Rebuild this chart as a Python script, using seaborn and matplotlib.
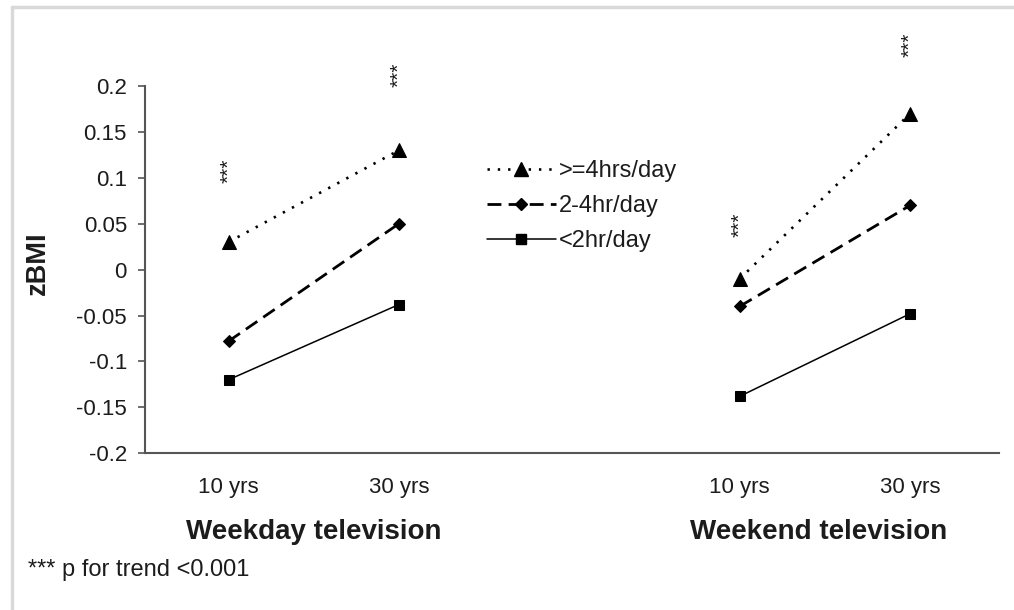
import matplotlib
matplotlib.use("Agg")
import matplotlib.pyplot as plt
from matplotlib.lines import Line2D
import seaborn as sns
import pandas as pd

# Data
ages = ["10 yrs", "30 yrs"]
groups = ["Weekday television", "Weekend television"]
series = [">=4hrs/day", "2-4hr/day", "<2hr/day"]
weekday_vals = {
    ">=4hrs/day": [0.03, 0.13],
    "2-4hr/day": [-0.078, 0.05],
    "<2hr/day": [-0.12, -0.038],
}
weekend_vals = {
    ">=4hrs/day": [-0.01, 0.17],
    "2-4hr/day": [-0.04, 0.07],
    "<2hr/day": [-0.138, -0.048],
}
y_ticks = [-0.2, -0.15, -0.1, -0.05, 0, 0.05, 0.1, 0.15, 0.2]
y_ticklabels = ["-0.2", "-0.15", "-0.1", "-0.05", "0", "0.05", "0.1", "0.15", "0.2"]
# height at which the significance marks sit, per age column
star_heights = [[0.108, 0.212], [0.049, 0.245]]
footnote = "*** p for trend <0.001"

sns.set_theme(style="white")
plt.rcParams["font.family"] = ["Liberation Sans", "DejaVu Sans"]
TEXT = "#1c1c1c"
AXIS = "#555555"

# long table; one empty category slot separates the two groups
rows = []
for gi, (g, vals) in enumerate(zip(groups, [weekday_vals, weekend_vals])):
    for s in series:
        for ai, a in enumerate(ages):
            rows.append({"group": g, "age": a, "series": s,
                         "slot": gi * (len(ages) + 1) + ai, "zBMI": vals[s][ai]})
df = pd.DataFrame(rows)

fig = plt.figure(figsize=(10.14, 6.1), dpi=100)
ax = fig.add_axes([0.143, 0.257, 0.842, 0.602])

markers = {">=4hrs/day": "^", "2-4hr/day": "D", "<2hr/day": "s"}
lstyles = {">=4hrs/day": (0, (0.9, 3.0)), "2-4hr/day": (0, (5, 2.6)), "<2hr/day": "-"}
widths = {">=4hrs/day": 1.9, "2-4hr/day": 2.0, "<2hr/day": 1.1}
msize = {">=4hrs/day": 9.5, "2-4hr/day": 6.5, "<2hr/day": 7.5}

for s in series:
    sub = df[df["series"] == s]
    sns.lineplot(data=sub, x="slot", y="zBMI", units="group", estimator=None,
                 color="black", marker=markers[s], markersize=msize[s],
                 markeredgecolor="black", linewidth=widths[s],
                 linestyle=lstyles[s], ax=ax, legend=False)

ax.set_xlim(-0.49, 4.52)
ax.set_ylim(-0.2, 0.2)
ax.set_yticks(y_ticks)
ax.set_yticklabels(y_ticklabels)
slots = sorted(df["slot"].unique())
ax.set_xticks(slots)
ax.set_xticklabels(ages * len(groups))
ax.tick_params(axis="x", length=0, pad=17, labelsize=16, labelcolor=TEXT)
ax.tick_params(axis="y", length=5, width=1.2, color=AXIS, direction="out",
               pad=8, labelsize=16, labelcolor=TEXT, left=True)
ax.set_xlabel("")
ax.set_ylabel("zBMI", fontsize=19.5, fontweight="bold", color=TEXT)
ax.yaxis.set_label_coords(-0.110, 0.518)
for side in ["top", "right"]:
    ax.spines[side].set_visible(False)
for side in ["left", "bottom"]:
    ax.spines[side].set_color(AXIS)
    ax.spines[side].set_linewidth(1.5)

# group captions under each pair of ticks
for gi, g in enumerate(groups):
    center = gi * (len(ages) + 1) + (len(ages) - 1) / 2 - 0.04 * gi
    ax.text(center, -0.215, g, transform=ax.get_xaxis_transform(),
            ha="center", va="center", fontsize=20, fontweight="bold", color=TEXT,
            clip_on=False)

# significance marks
for gi in range(len(groups)):
    for ai in range(len(ages)):
        ax.text(gi * (len(ages) + 1) + ai, star_heights[gi][ai], "***",
                rotation=90, ha="center", va="center", fontsize=15,
                color=TEXT, clip_on=False)

# legend
handles = [Line2D([], [], color="black", marker=markers[s], markersize=msize[s],
                  linewidth=widths[s], linestyle=lstyles[s])
           for s in series]
leg = ax.legend(handles, series, loc="upper left", bbox_to_anchor=(0.387, 0.83),
                frameon=False, fontsize=17, handlelength=2.9, handletextpad=0.15,
                labelspacing=0.55, borderpad=0)
for t in leg.get_texts():
    t.set_color(TEXT)

fig.text(28 / 1014, 1 - 570 / 610, footnote, fontsize=17, color=TEXT,
         ha="left", va="center")

# light frame along the top and left edges
fig.add_artist(Line2D([12 / 1014, 12 / 1014], [0, 1 - 7 / 610], transform=fig.transFigure,
                      color="#d9d9d9", linewidth=2.5))
fig.add_artist(Line2D([12 / 1014, 1], [1 - 7 / 610, 1 - 7 / 610], transform=fig.transFigure,
                      color="#d9d9d9", linewidth=2.5))

fig.savefig("out.png", dpi=100, facecolor="white")
